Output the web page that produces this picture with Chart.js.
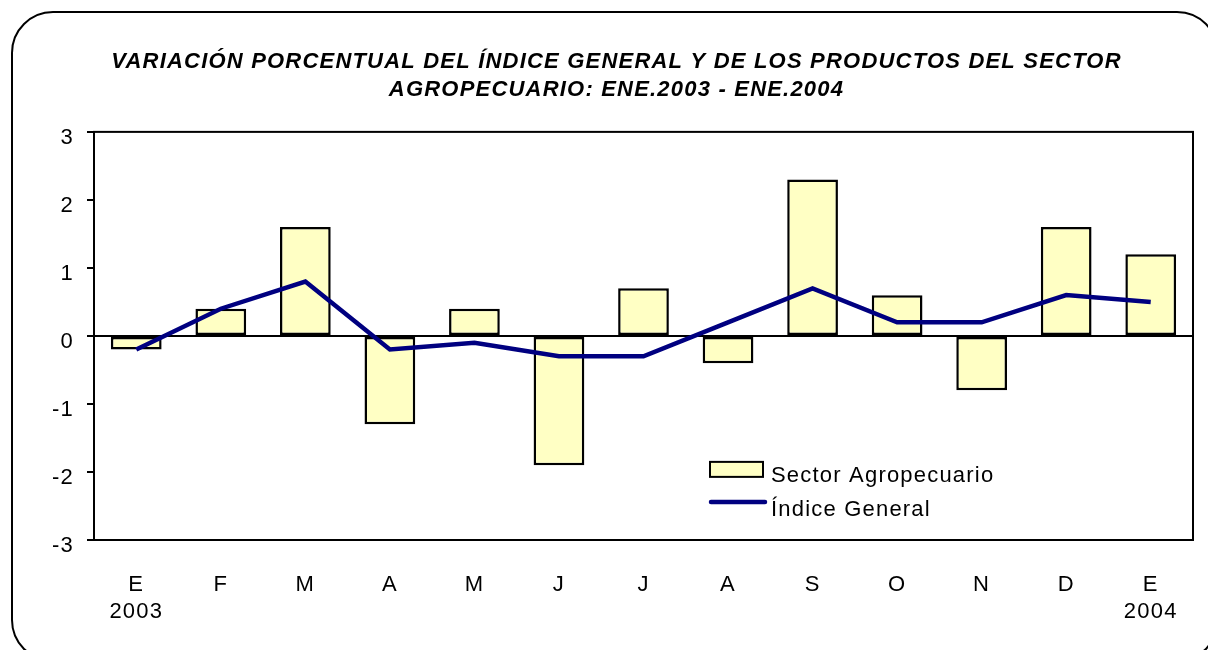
<!DOCTYPE html>
<html>
<head>
<meta charset="utf-8">
<script src="https://cdn.jsdelivr.net/npm/chart.js@4"></script>
<style>
  html, body { margin: 0; padding: 0; background: #fff; overflow: hidden; }
  #wrap { position: relative; width: 1208px; height: 650px; }
  #frame { position: absolute; left: 11px; top: 11px; width: 1208px; height: 651px;
           border: 2.5px solid #000; border-radius: 42px; box-sizing: border-box; pointer-events: none; }
</style>
</head>
<body>
<div id="wrap">
  <canvas id="chart"></canvas>
  <div id="frame"></div>
</div>
<script>
// datos
const months = [['E', '2003'], 'F', 'M', 'A', 'M', 'J', 'J', 'A', 'S', 'O', 'N', 'D', ['E', '2004']];
const sectorAgro = [-0.2, 0.4, 1.6, -1.3, 0.4, -1.9, 0.7, -0.4, 2.3, 0.6, -0.8, 1.6, 1.2];
const indiceGeneral = [-0.2, 0.4, 0.8, -0.2, -0.1, -0.3, -0.3, 0.2, 0.7, 0.2, 0.2, 0.6, 0.5];
const yTicks = [-3, -2, -1, 0, 1, 2, 3];
const titleLines = ['VARIACIÓN PORCENTUAL DEL ÍNDICE GENERAL Y DE LOS PRODUCTOS DEL SECTOR',
                    'AGROPECUARIO: ENE.2003 - ENE.2004'];

const FONT = "'Liberation Sans', Arial, sans-serif";
const BAR_FILL = '#FFFFC4';
const LINE_COL = '#000080';
const SPACING = '1.2px';

// espaciado de letras como en el original
const spacing = {
  id: 'spacing',
  beforeDraw(chart) { chart.ctx.letterSpacing = SPACING; }
};

// marco del área de trazado + leyenda dentro del gráfico
const boxAndLegend = {
  id: 'boxAndLegend',
  afterDraw(chart) {
    const { ctx, chartArea: a } = chart;
    ctx.save();
    ctx.strokeStyle = '#000';
    ctx.lineWidth = 2;
    ctx.strokeRect(a.left, a.top, a.right - a.left, a.bottom - a.top);

    const ds = chart.data.datasets;
    const lx = a.left + 616, ly = a.top + 330;
    ctx.fillStyle = BAR_FILL;
    ctx.fillRect(lx, ly, 53, 15);
    ctx.strokeRect(lx, ly, 53, 15);
    ctx.beginPath();
    ctx.strokeStyle = LINE_COL;
    ctx.lineWidth = 4.5;
    ctx.lineCap = 'round';
    ctx.moveTo(lx + 1, ly + 40);
    ctx.lineTo(lx + 55, ly + 40);
    ctx.stroke();

    ctx.letterSpacing = SPACING;
    ctx.fillStyle = '#000';
    ctx.font = '22px ' + FONT;
    ctx.textBaseline = 'middle';
    ctx.textAlign = 'left';
    ctx.fillText(ds[0].label, lx + 61, ly + 14);
    ctx.fillText(ds[1].label, lx + 61, ly + 48);
    ctx.restore();
  }
};

new Chart(document.getElementById('chart'), {
  type: 'bar',
  data: {
    labels: months,
    datasets: [
      {
        type: 'bar',
        label: 'Sector Agropecuario',
        data: sectorAgro,
        backgroundColor: BAR_FILL,
        borderColor: '#000',
        borderWidth: 2.5,
        borderSkipped: false,
        categoryPercentage: 1,
        barPercentage: 0.6,
        order: 1
      },
      {
        type: 'line',
        label: 'Índice General',
        data: indiceGeneral,
        borderColor: LINE_COL,
        borderWidth: 4.5,
        pointRadius: 0,
        tension: 0,
        order: 0
      }
    ]
  },
  options: {
    responsive: true,
    maintainAspectRatio: false,
    animation: false,
    layout: { padding: { left: 40, right: 15, top: 0, bottom: 0 } },
    plugins: {
      legend: { display: false },
      tooltip: { enabled: false },
      title: {
        display: true,
        text: titleLines,
        color: '#000',
        font: { family: FONT, size: 22, weight: 'bold', style: 'italic', lineHeight: 1.27 },
        padding: { top: 48, bottom: 28 }
      }
    },
    scales: {
      x: {
        offset: true,
        grid: { display: false, drawTicks: false },
        border: { display: true, color: '#000', width: 2 },
        ticks: {
          autoSkip: false, maxRotation: 0, color: '#000', padding: 31,
          font: { family: FONT, size: 22, lineHeight: 1.25 }
        },
        afterFit(s) { s.height = 110; }
      },
      y: {
        min: -3, max: 3,
        afterBuildTicks(s) { s.ticks = yTicks.map(v => ({ value: v })); },
        grid: {
          color: c => (c.tick && c.tick.value === 0 ? '#000' : 'rgba(0,0,0,0)'),
          lineWidth: 2,
          tickColor: '#000',
          tickLength: 7,
          drawTicks: true
        },
        border: { display: true, color: '#000', width: 2 },
        ticks: {
          color: '#000', padding: 13, labelOffset: 6,
          font: { family: FONT, size: 22 }
        },
        afterFit(s) { s.width = 54; }
      }
    }
  },
  plugins: [spacing, boxAndLegend]
});
</script>
</body>
</html>
